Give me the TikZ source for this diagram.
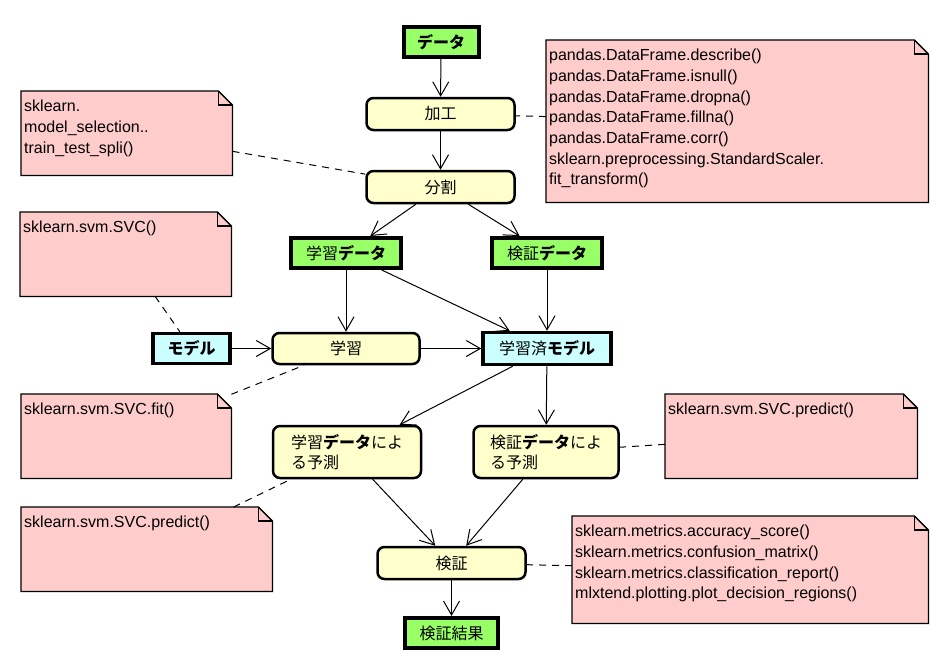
\documentclass[tikz,border=0pt]{standalone}
\usepackage{fontspec}
\setmainfont{Liberation Sans}
\newfontfamily\jp{Noto Sans CJK JP}
\usetikzlibrary{arrows.meta,backgrounds}

\definecolor{datagreen}{HTML}{99FF66}
\definecolor{procyellow}{HTML}{FFFFCC}
\definecolor{modelcyan}{HTML}{CCFFFF}
\definecolor{memopink}{HTML}{FFCCCC}

\tikzset{
  data/.style={draw, line width=4pt, fill=datagreen, minimum height=30pt, inner sep=0pt, font=\jp\fontsize{16}{20}\selectfont},
  model/.style={data, line width=3.5pt, fill=modelcyan},
  proc/.style={draw, line width=2.5pt, rounded corners=7pt, fill=procyellow, minimum width=148pt, minimum height=32pt, inner sep=0pt, align=left, font=\jp\fontsize{16}{20}\selectfont},
  memo/.style={inner sep=0pt, anchor=north west},
  memotext/.style={inner sep=0pt, anchor=north west, align=left, font=\fontsize{16}{20.7}\selectfont},
  flow/.style={-{Straight Barb[length=14pt,width=16pt]}, line width=1pt},
  link/.style={dash pattern=on 7pt off 6pt, line width=1pt},
}

\begin{document}
\begin{tikzpicture}[x=1pt,y=-1pt]
\useasboundingbox (0,0) rectangle (950,661);

\node[data, minimum width=75pt] (nData) at (441,42) {{\bfseries データ}};
\node[proc] (nPrep) at (440.5,114) {加工};
\node[proc] (nSplit) at (440.5,187) {分割};
\node[data, minimum width=110pt] (nTrain) at (346,253) {学習{\bfseries データ}};
\node[data, minimum width=110pt] (nTest) at (547,253) {検証{\bfseries データ}};
\node[model, minimum width=77pt] (nModel) at (191.5,348.5) {{\bfseries モデル}};
\node[proc, minimum width=147pt, minimum height=31pt] (nFit) at (346,348.5) {学習};
\node[model, minimum width=128pt, minimum height=32pt] (nTrained) at (547,348.5) {学習済{\bfseries モデル}};
\node[proc, minimum height=52pt] (nPredTr) at (347,452) {学習{\bfseries データ}によ\\る予測};
\node[proc, minimum width=145pt, minimum height=52pt] (nPredTe) at (546,452) {検証{\bfseries データ}によ\\る予測};
\node[proc] (nEval) at (451.5,563) {検証};
\node[data, minimum width=93pt] (nResult) at (451.5,633) {検証結果};

\node[memo, minimum width=382pt, minimum height=162pt] (mPrep) at (546,40) {};
\node[memo, minimum width=211pt, minimum height=84pt] (mSplit) at (21,91) {};
\node[memo, minimum width=211pt, minimum height=84pt] (mSvc) at (20,212) {};
\node[memo, minimum width=210pt, minimum height=84pt] (mFit) at (21,394) {};
\node[memo, minimum width=252pt, minimum height=84pt] (mPredTe) at (665,394) {};
\node[memo, minimum width=251pt, minimum height=84pt] (mPredTr) at (21,507) {};
\node[memo, minimum width=356pt, minimum height=107pt] (mEval) at (572,516) {};

\node[memotext] (tPrep) at ([shift={(3,9)}]mPrep.north west) {pandas.DataFrame.describe()\\pandas.DataFrame.isnull()\\pandas.DataFrame.dropna()\\pandas.DataFrame.fillna()\\pandas.DataFrame.corr()\\sklearn.preprocessing.StandardScaler.\\fit\_transform()};
\node[memotext] (tSplit) at ([shift={(3,9)}]mSplit.north west) {sklearn.\\model\_selection..\\train\_test\_spli()};
\node[memotext] (tSvc) at ([shift={(3,9)}]mSvc.north west) {sklearn.svm.SVC()};
\node[memotext] (tFit) at ([shift={(3,9)}]mFit.north west) {sklearn.svm.SVC.fit()};
\node[memotext] (tPredTe) at ([shift={(3,9)}]mPredTe.north west) {sklearn.svm.SVC.predict()};
\node[memotext] (tPredTr) at ([shift={(3,9)}]mPredTr.north west) {sklearn.svm.SVC.predict()};
\node[memotext] (tEval) at ([shift={(3,9)}]mEval.north west) {sklearn.metrics.accuracy\_score()\\sklearn.metrics.confusion\_matrix()\\sklearn.metrics.classification\_report()\\mlxtend.plotting.plot\_decision\_regions()};

\begin{scope}[on background layer]
\foreach \m in {mPrep,mSplit,mSvc,mFit,mPredTe,mPredTr,mEval}{
  \draw[line width=1.3pt, fill=memopink] (\m.north west) -- ([xshift=-14pt]\m.north east) -- ([yshift=-14pt]\m.north east) -- (\m.south east) -- (\m.south west) -- cycle;
  \draw[line width=1.3pt] ([xshift=-14pt]\m.north east) |- ([yshift=-14pt]\m.north east);
}
\end{scope}

\draw[flow] (nData) -- (nPrep);
\draw[flow] (nPrep) -- (nSplit);
\draw[flow] (nSplit) -- (nTrain);
\draw[flow] (nSplit) -- (nTest);
\draw[flow] (nTrain) -- (nFit);
\draw[flow] (nTrain) -- (nTrained);
\draw[flow] (nTest) -- (nTrained);
\draw[flow] (nModel) -- (nFit);
\draw[flow] (nFit) -- (nTrained);
\draw[flow] (nTrained) -- (nPredTr);
\draw[flow] (nTrained) -- (nPredTe);
\draw[flow] (nPredTr) -- (nEval);
\draw[flow] (nPredTe) -- (nEval);
\draw[flow] (nEval) -- (nResult);

\draw[link] (mPrep) -- (nPrep);
\draw[link] (mSplit) -- (nSplit);
\draw[link] (mSvc) -- (nModel);
\draw[link] (mFit) -- (nFit);
\draw[link] (mPredTe) -- (nPredTe);
\draw[link] (mPredTr) -- (nPredTr);
\draw[link] (mEval) -- (nEval);
\end{tikzpicture}
\end{document}
